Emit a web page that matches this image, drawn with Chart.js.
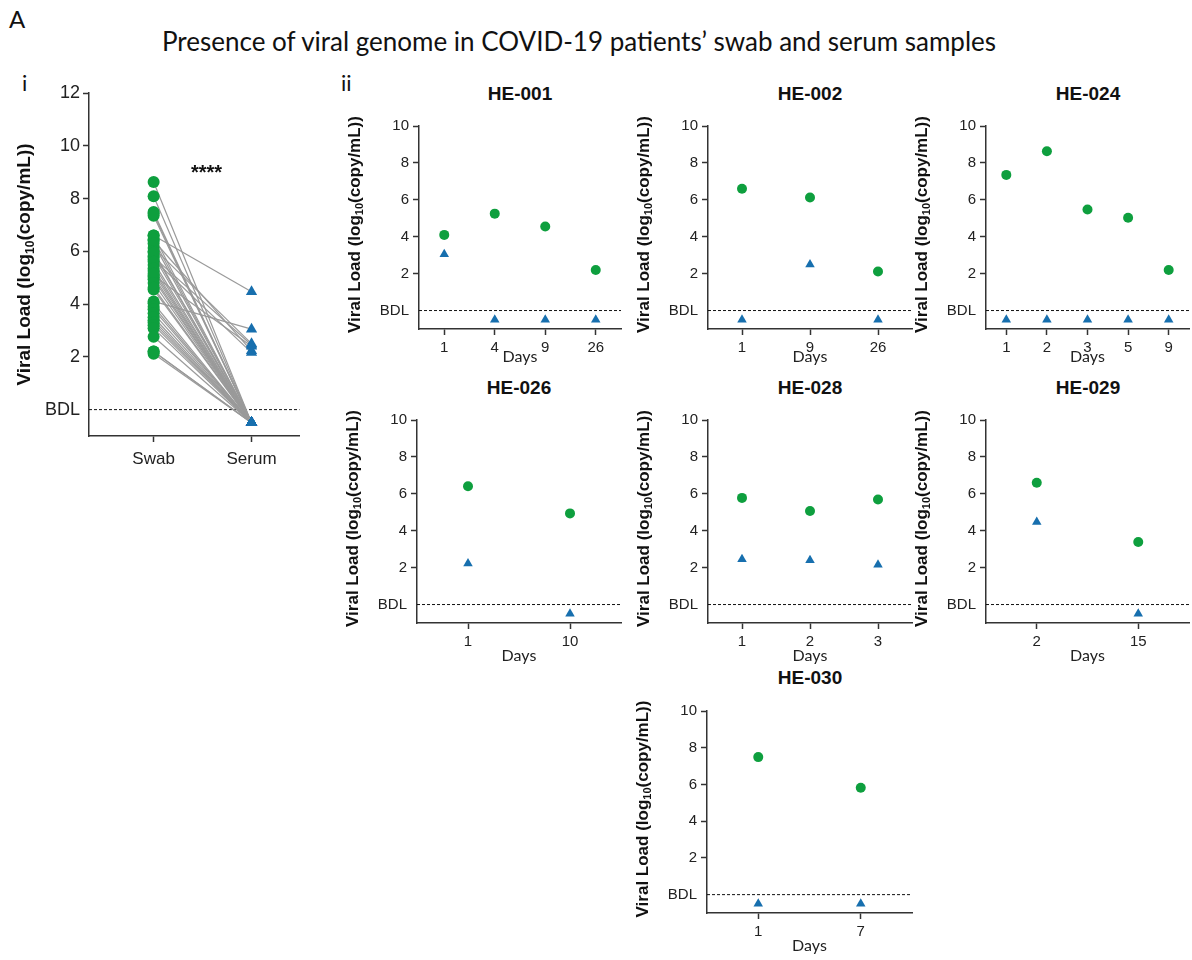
<!DOCTYPE html>
<html>
<head>
<meta charset="utf-8">
<script src="https://cdn.jsdelivr.net/npm/chart.js@4"></script>
<style>
  body { margin: 0; background: #fff; }
  #wrap { position: relative; width: 1192px; height: 960px; overflow: hidden; }
  canvas { position: absolute; }
  .lbl { position: absolute; color: #111; white-space: nowrap; }
  .sub { font: bold 19px "Liberation Sans", Arial, sans-serif; transform: translateX(-50%); }
</style>
</head>
<body>
<div id="wrap">
  <div class="lbl" style="left:9px;top:4px;font:24px Lato, sans-serif;">A</div>
  <div class="lbl" style="left:579px;top:25px;font:26px Lato, sans-serif;transform:translateX(-50%);">Presence of viral genome in COVID-19 patients’ swab and serum samples</div>
  <div class="lbl" style="left:22px;top:69px;font:22px Lato, sans-serif;">i</div>
  <div class="lbl" style="left:341px;top:69px;font:22px Lato, sans-serif;">ii</div>

  <div class="lbl sub" style="left:520px;top:83px;">HE-001</div>
  <div class="lbl sub" style="left:810px;top:83px;">HE-002</div>
  <div class="lbl sub" style="left:1088px;top:83px;">HE-024</div>
  <div class="lbl sub" style="left:519px;top:377px;">HE-026</div>
  <div class="lbl sub" style="left:810px;top:377px;">HE-028</div>
  <div class="lbl sub" style="left:1088px;top:377px;">HE-029</div>
  <div class="lbl sub" style="left:810px;top:667px;">HE-030</div>

  <canvas id="c_all"></canvas>
  <canvas id="c001"></canvas>
  <canvas id="c002"></canvas>
  <canvas id="c024"></canvas>
  <canvas id="c026"></canvas>
  <canvas id="c028"></canvas>
  <canvas id="c029"></canvas>
  <canvas id="c030"></canvas>
</div>
<script>
// per-patient data (log10 copies/mL); serum below detection limit plotted at -0.5
const days001 = ['1', '4', '9', '26'];
const swab001 = [4.1, 5.25, 4.55, 2.2];
const serum001 = [3.05, -0.5, -0.5, -0.5];

const days002 = ['1', '9', '26'];
const swab002 = [6.6, 6.13, 2.12];
const serum002 = [-0.5, 2.5, -0.5];

const days024 = ['1', '2', '3', '5', '9'];
const swab024 = [7.35, 8.63, 5.48, 5.03, 2.2];
const serum024 = [-0.5, -0.5, -0.5, -0.5, -0.5];

const days026 = ['1', '10'];
const swab026 = [6.41, 4.94];
const serum026 = [2.23, -0.5];

const days028 = ['1', '2', '3'];
const swab028 = [5.78, 5.07, 5.69];
const serum028 = [2.45, 2.4, 2.16];

const days029 = ['2', '15'];
const swab029 = [6.6, 3.39];
const serum029 = [4.47, -0.5];

const days030 = ['1', '7'];
const swab030 = [7.49, 5.82];
const serum030 = [-0.5, -0.5];

// panel i: paired swab / serum values, all samples
const swabAll = [4.1, 5.25, 4.55, 2.2, 6.6, 6.13, 2.12, 7.35, 8.63, 5.48, 5.03, 2.2,
  6.41, 4.94, 5.78, 5.07, 5.69, 6.6, 3.39, 7.49, 5.82,
  8.09, 7.43, 6.45, 6.3, 6.0, 5.95, 5.6, 5.35, 5.15, 4.8, 4.62, 4.03, 3.9, 3.8,
  3.65, 3.5, 3.3, 3.2, 3.08, 2.76];
const serumAll = [3.05, -0.5, -0.5, -0.5, -0.5, 2.5, -0.5, -0.5, -0.5, -0.5, -0.5, -0.5,
  2.23, -0.5, 2.45, 2.4, 2.16, 4.47, -0.5, -0.5, -0.5,
  -0.5, -0.5, -0.5, -0.5, -0.5, -0.5, -0.5, -0.5, -0.5, -0.5, -0.5, -0.5, -0.5, -0.5,
  -0.5, -0.5, -0.5, -0.5, -0.5, -0.5];
const groupLabels = ['Swab', 'Serum'];
const yTicksSub = [0, 2, 4, 6, 8, 10];
const yTicksAll = [0, 2, 4, 6, 8, 10, 12];

const GREEN = '#0e9f3e';
const BLUE = '#176fae';
const AX = '#333';
const FONT = '"Liberation Sans", Arial, sans-serif';

// y axis title with subscript 10
const yTitlePlugin = {
  id: 'yTitle',
  afterDraw(chart, args, opts) {
    const ctx = chart.ctx, a = chart.chartArea;
    const big = 'bold ' + opts.size + 'px ' + FONT;
    const small = 'bold ' + Math.round(opts.size * 0.64) + 'px ' + FONT;
    const parts = [['Viral Load (log', big, 0], ['10', small, opts.size * 0.28], ['(copy/mL))', big, 0]];
    ctx.save();
    ctx.translate(a.left - opts.gap, (a.top + a.bottom) / 2 + (opts.shift || 0));
    ctx.rotate(-Math.PI / 2);
    let total = 0;
    parts.forEach(p => { ctx.font = p[1]; total += ctx.measureText(p[0]).width; });
    let x = -total / 2;
    ctx.fillStyle = '#111';
    ctx.textBaseline = 'middle';
    parts.forEach(p => {
      ctx.font = p[1];
      ctx.fillText(p[0], x, p[2]);
      x += ctx.measureText(p[0]).width;
    });
    ctx.restore();
  }
};

// dashed line at detection limit
const bdlPlugin = {
  id: 'bdl',
  beforeDatasetsDraw(chart) {
    const ctx = chart.ctx, a = chart.chartArea;
    const y = chart.scales.y.getPixelForValue(0);
    ctx.save();
    ctx.strokeStyle = '#111';
    ctx.lineWidth = 1;
    ctx.setLineDash([3, 2]);
    ctx.beginPath();
    ctx.moveTo(a.left, y);
    ctx.lineTo(a.right, y);
    ctx.stroke();
    ctx.restore();
  }
};

const starPlugin = {
  id: 'stars',
  afterDraw(chart) {
    const ctx = chart.ctx;
    ctx.save();
    ctx.font = 'bold 20px ' + FONT;
    ctx.fillStyle = '#111';
    ctx.textAlign = 'center';
    ctx.textBaseline = 'middle';
    ctx.fillText('****', chart.scales.x.getPixelForValue(1.54), chart.scales.y.getPixelForValue(8.95));
    ctx.restore();
  }
};

function place(id, left, top, right, bottom, padTop, yW, xH) {
  const c = document.getElementById(id);
  c.width = (right - left) + yW + 6;
  c.height = (bottom - top) + padTop + xH;
  c.style.left = (left - yW) + 'px';
  c.style.top = (top - padTop) + 'px';
  return c;
}

function yAxis(ticksArr, max, fontSize, pad) {
  return {
    type: 'linear', min: -1, max: max,
    afterBuildTicks(s) { s.ticks = ticksArr.map(v => ({ value: v })); },
    afterFit(s) { s.width = 80; },
    ticks: { callback: v => (v === 0 ? 'BDL' : String(v)), color: '#222', font: { size: fontSize, family: FONT }, padding: pad },
    grid: { drawOnChartArea: false, tickLength: 6, tickWidth: 1.5,
      tickColor: c => (c.tick && c.tick.value === 0 ? 'rgba(0,0,0,0)' : AX) },
    border: { color: AX, width: 1.5 }
  };
}

function subplot(id, box, days, swab, serum, dayPad) {
  const c = place(id, box[0], box[1], box[2], box[3], 14, 80, 46);
  new Chart(c, {
    type: 'line',
    data: {
      labels: days,
      datasets: [
        { data: swab, showLine: false, pointStyle: 'circle', pointRadius: 5, pointBorderWidth: 0,
          pointBackgroundColor: GREEN, pointBorderColor: GREEN },
        { data: serum, showLine: false, pointStyle: 'triangle', pointRadius: 5.5, pointBorderWidth: 0,
          pointBackgroundColor: BLUE, pointBorderColor: BLUE }
      ]
    },
    options: {
      responsive: false, animation: false, events: [],
      layout: { padding: { top: 14, right: 6, left: 0, bottom: 0 } },
      plugins: { legend: { display: false }, tooltip: { enabled: false }, yTitle: { size: 17, gap: 64, shift: -3 } },
      scales: {
        x: {
          type: 'category', offset: true,
          afterFit(s) { s.height = 46; },
          grid: { drawOnChartArea: false, offset: false, tickLength: 6, tickWidth: 1.5, tickColor: AX },
          border: { color: AX, width: 1.5 },
          ticks: { color: '#222', font: { size: 15, family: FONT }, padding: 4, maxRotation: 0, autoSkip: false },
          title: { display: true, text: 'Days', color: '#222', font: { size: 16, family: 'Lato, sans-serif' }, padding: { top: 0, bottom: dayPad } }
        },
        y: yAxis(yTicksSub, 10, 15, 4)
      }
    },
    plugins: [yTitlePlugin, bdlPlugin]
  });
}

// panel i
(function () {
  const c = place('c_all', 89, 93, 300, 436, 14, 80, 46);
  const pairs = swabAll.map((s, i) => ({
    data: [{ x: 1, y: s }, { x: 2, y: serumAll[i] }],
    showLine: true, borderColor: '#9a9a9a', borderWidth: 1.2, pointRadius: 0, order: 2
  }));
  new Chart(c, {
    type: 'scatter',
    data: {
      datasets: [
        { data: swabAll.map(v => ({ x: 1, y: v })), pointStyle: 'circle', pointRadius: 6, pointBorderWidth: 0,
          pointBackgroundColor: GREEN, order: 0 },
        { data: serumAll.map(v => ({ x: 2, y: v })), pointStyle: 'triangle', pointRadius: 6.5, pointBorderWidth: 0,
          pointBackgroundColor: BLUE, order: 0 }
      ].concat(pairs)
    },
    options: {
      responsive: false, animation: false, events: [],
      layout: { padding: { top: 14, right: 6, left: 0, bottom: 0 } },
      plugins: { legend: { display: false }, tooltip: { enabled: false }, yTitle: { size: 19, gap: 64, shift: 0 } },
      scales: {
        x: {
          type: 'linear', min: 0.34, max: 2.49,
          afterBuildTicks(s) { s.ticks = [{ value: 1 }, { value: 2 }]; },
          afterFit(s) { s.height = 46; },
          grid: { drawOnChartArea: false, tickLength: 6, tickWidth: 1.5, tickColor: AX },
          border: { color: AX, width: 1.5 },
          ticks: { callback: v => groupLabels[v - 1], color: '#222', font: { size: 17, family: FONT }, padding: 7, maxRotation: 0 }
        },
        y: yAxis(yTicksAll, 12, 18, 3)
      }
    },
    plugins: [yTitlePlugin, bdlPlugin, starPlugin]
  });
})();

subplot('c001', [419, 126, 621, 329], days001, swab001, serum001, 9);
subplot('c002', [708, 126, 912, 329], days002, swab002, serum002, 9);
subplot('c024', [986, 126, 1189, 329], days024, swab024, serum024, 9);
subplot('c026', [417, 420, 621, 623], days026, swab026, serum026, 4);
subplot('c028', [708, 420, 912, 623], days028, swab028, serum028, 4);
subplot('c029', [986, 420, 1189, 623], days029, swab029, serum029, 4);
subplot('c030', [707, 711, 912, 913], days030, swab030, serum030, 4);
</script>
</body>
</html>
